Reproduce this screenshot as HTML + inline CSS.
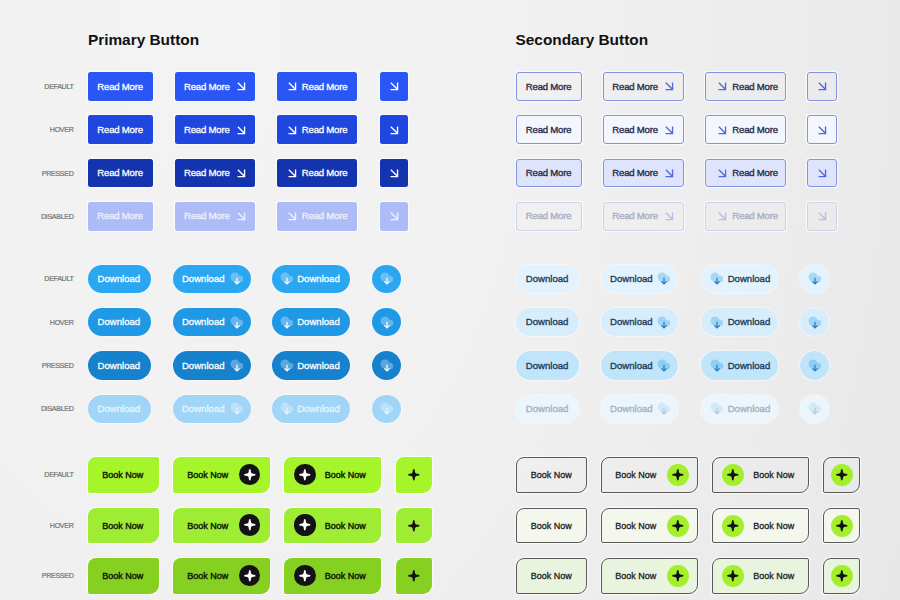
<!DOCTYPE html><html><head><meta charset="utf-8"><style>
*{margin:0;padding:0;box-sizing:border-box}
html,body{width:900px;height:600px;overflow:hidden}
body{position:relative;font-family:"Liberation Sans",sans-serif;background:radial-gradient(900px 1400px at 200px 50px,#f3f3f3 0%,#f1f1f1 35%,#ebebeb 70%,#e5e5e5 100%)}
.t{position:absolute;font-weight:bold;font-size:15.4px;color:#111;white-space:nowrap;line-height:20px}
.l{position:absolute;font-size:7.2px;letter-spacing:-0.38px;font-weight:normal;-webkit-text-stroke:0.22px #777;color:#777;text-align:right;width:60px;white-space:nowrap;line-height:10px}
.b{position:absolute;box-shadow:0 0 1.2px 0.6px rgba(255,255,255,0.75)}
.x{position:absolute;white-space:nowrap;line-height:20px}
.i{position:absolute;display:block;overflow:visible}
.c{position:absolute;border-radius:50%}
</style></head><body>
<div class="x" style="left:87.92px;top:29.83px;font-size:15.4px;font-weight:bold;color:#111;">Primary Button</div>
<div class="x" style="left:515.52px;top:29.83px;font-size:15.4px;font-weight:bold;color:#111;">Secondary Button</div>
<div class="l" style="left:13.50px;top:81.90px">DEFAULT</div>
<div class="l" style="left:13.50px;top:125.20px">HOVER</div>
<div class="l" style="left:13.50px;top:168.50px">PRESSED</div>
<div class="l" style="left:13.50px;top:211.80px">DISABLED</div>
<div class="b" style="left:88px;top:72.1px;width:65px;height:28.6px;background:#2a56f6;border-radius:2.5px"></div>
<div class="b" style="left:175px;top:72.1px;width:80.3px;height:28.6px;background:#2a56f6;border-radius:2.5px"></div>
<div class="b" style="left:277.2px;top:72.1px;width:80.3px;height:28.6px;background:#2a56f6;border-radius:2.5px"></div>
<div class="b" style="left:379.5px;top:72.1px;width:28.5px;height:28.6px;background:#2a56f6;border-radius:2.5px"></div>
<div class="x" style="left:97.33px;top:76.51px;font-size:9.6px;font-weight:normal;color:#ffffff;-webkit-text-stroke:0.28px #ffffff;letter-spacing:-0.22px;">Read More</div>
<div class="x" style="left:184.03px;top:76.51px;font-size:9.6px;font-weight:normal;color:#ffffff;-webkit-text-stroke:0.28px #ffffff;letter-spacing:-0.22px;">Read More</div>
<svg class="i" style="left:237.20px;top:82.20px" width="8.4" height="8.4" viewBox="0 0 8 8"><path d="M0.8 0.8L7 7M7.2 0.5V7.2H0.5" fill="none" stroke="#ffffff" stroke-width="1.29"/></svg>
<svg class="i" style="left:287.60px;top:82.20px" width="8.4" height="8.4" viewBox="0 0 8 8"><path d="M0.8 0.8L7 7M7.2 0.5V7.2H0.5" fill="none" stroke="#ffffff" stroke-width="1.29"/></svg>
<div class="x" style="left:301.83px;top:76.51px;font-size:9.6px;font-weight:normal;color:#ffffff;-webkit-text-stroke:0.28px #ffffff;letter-spacing:-0.22px;">Read More</div>
<svg class="i" style="left:389.60px;top:82.20px" width="8.4" height="8.4" viewBox="0 0 8 8"><path d="M0.8 0.8L7 7M7.2 0.5V7.2H0.5" fill="none" stroke="#ffffff" stroke-width="1.29"/></svg>
<div class="b" style="left:516.1px;top:72.1px;width:65.7px;height:28.6px;background:rgba(255,255,255,0);border:1.1px solid #8493df;border-radius:3px"></div>
<div class="b" style="left:602.9px;top:72.1px;width:80.8px;height:28.6px;background:rgba(255,255,255,0);border:1.1px solid #8493df;border-radius:3px"></div>
<div class="b" style="left:705px;top:72.1px;width:80.7px;height:28.6px;background:rgba(255,255,255,0);border:1.1px solid #8493df;border-radius:3px"></div>
<div class="b" style="left:807.2px;top:72.1px;width:29.4px;height:28.6px;background:rgba(255,255,255,0);border:1.1px solid #8493df;border-radius:3px"></div>
<div class="x" style="left:525.83px;top:76.51px;font-size:9.6px;font-weight:normal;color:#262b48;-webkit-text-stroke:0.33px #262b48;letter-spacing:-0.22px;">Read More</div>
<div class="x" style="left:612.33px;top:76.51px;font-size:9.6px;font-weight:normal;color:#262b48;-webkit-text-stroke:0.33px #262b48;letter-spacing:-0.22px;">Read More</div>
<svg class="i" style="left:665.20px;top:82.20px" width="8.4" height="8.4" viewBox="0 0 8 8"><path d="M0.8 0.8L7 7M7.2 0.5V7.2H0.5" fill="none" stroke="#5468da" stroke-width="1.29"/></svg>
<svg class="i" style="left:717.90px;top:82.20px" width="8.4" height="8.4" viewBox="0 0 8 8"><path d="M0.8 0.8L7 7M7.2 0.5V7.2H0.5" fill="none" stroke="#5468da" stroke-width="1.29"/></svg>
<div class="x" style="left:732.33px;top:76.51px;font-size:9.6px;font-weight:normal;color:#262b48;-webkit-text-stroke:0.33px #262b48;letter-spacing:-0.22px;">Read More</div>
<svg class="i" style="left:817.50px;top:82.20px" width="8.4" height="8.4" viewBox="0 0 8 8"><path d="M0.8 0.8L7 7M7.2 0.5V7.2H0.5" fill="none" stroke="#5468da" stroke-width="1.29"/></svg>
<div class="b" style="left:88px;top:115.4px;width:65px;height:28.6px;background:#1f47e0;border-radius:2.5px"></div>
<div class="b" style="left:175px;top:115.4px;width:80.3px;height:28.6px;background:#1f47e0;border-radius:2.5px"></div>
<div class="b" style="left:277.2px;top:115.4px;width:80.3px;height:28.6px;background:#1f47e0;border-radius:2.5px"></div>
<div class="b" style="left:379.5px;top:115.4px;width:28.5px;height:28.6px;background:#1f47e0;border-radius:2.5px"></div>
<div class="x" style="left:97.33px;top:119.81px;font-size:9.6px;font-weight:normal;color:#ffffff;-webkit-text-stroke:0.28px #ffffff;letter-spacing:-0.22px;">Read More</div>
<div class="x" style="left:184.03px;top:119.81px;font-size:9.6px;font-weight:normal;color:#ffffff;-webkit-text-stroke:0.28px #ffffff;letter-spacing:-0.22px;">Read More</div>
<svg class="i" style="left:237.20px;top:125.50px" width="8.4" height="8.4" viewBox="0 0 8 8"><path d="M0.8 0.8L7 7M7.2 0.5V7.2H0.5" fill="none" stroke="#ffffff" stroke-width="1.29"/></svg>
<svg class="i" style="left:287.60px;top:125.50px" width="8.4" height="8.4" viewBox="0 0 8 8"><path d="M0.8 0.8L7 7M7.2 0.5V7.2H0.5" fill="none" stroke="#ffffff" stroke-width="1.29"/></svg>
<div class="x" style="left:301.83px;top:119.81px;font-size:9.6px;font-weight:normal;color:#ffffff;-webkit-text-stroke:0.28px #ffffff;letter-spacing:-0.22px;">Read More</div>
<svg class="i" style="left:389.60px;top:125.50px" width="8.4" height="8.4" viewBox="0 0 8 8"><path d="M0.8 0.8L7 7M7.2 0.5V7.2H0.5" fill="none" stroke="#ffffff" stroke-width="1.29"/></svg>
<div class="b" style="left:516.1px;top:115.4px;width:65.7px;height:28.6px;background:#f4f6fe;border:1.1px solid #8493df;border-radius:3px"></div>
<div class="b" style="left:602.9px;top:115.4px;width:80.8px;height:28.6px;background:#f4f6fe;border:1.1px solid #8493df;border-radius:3px"></div>
<div class="b" style="left:705px;top:115.4px;width:80.7px;height:28.6px;background:#f4f6fe;border:1.1px solid #8493df;border-radius:3px"></div>
<div class="b" style="left:807.2px;top:115.4px;width:29.4px;height:28.6px;background:#f4f6fe;border:1.1px solid #8493df;border-radius:3px"></div>
<div class="x" style="left:525.83px;top:119.81px;font-size:9.6px;font-weight:normal;color:#262b48;-webkit-text-stroke:0.33px #262b48;letter-spacing:-0.22px;">Read More</div>
<div class="x" style="left:612.33px;top:119.81px;font-size:9.6px;font-weight:normal;color:#262b48;-webkit-text-stroke:0.33px #262b48;letter-spacing:-0.22px;">Read More</div>
<svg class="i" style="left:665.20px;top:125.50px" width="8.4" height="8.4" viewBox="0 0 8 8"><path d="M0.8 0.8L7 7M7.2 0.5V7.2H0.5" fill="none" stroke="#5468da" stroke-width="1.29"/></svg>
<svg class="i" style="left:717.90px;top:125.50px" width="8.4" height="8.4" viewBox="0 0 8 8"><path d="M0.8 0.8L7 7M7.2 0.5V7.2H0.5" fill="none" stroke="#5468da" stroke-width="1.29"/></svg>
<div class="x" style="left:732.33px;top:119.81px;font-size:9.6px;font-weight:normal;color:#262b48;-webkit-text-stroke:0.33px #262b48;letter-spacing:-0.22px;">Read More</div>
<svg class="i" style="left:817.50px;top:125.50px" width="8.4" height="8.4" viewBox="0 0 8 8"><path d="M0.8 0.8L7 7M7.2 0.5V7.2H0.5" fill="none" stroke="#5468da" stroke-width="1.29"/></svg>
<div class="b" style="left:88px;top:158.7px;width:65px;height:28.6px;background:#1433ae;border-radius:2.5px"></div>
<div class="b" style="left:175px;top:158.7px;width:80.3px;height:28.6px;background:#1433ae;border-radius:2.5px"></div>
<div class="b" style="left:277.2px;top:158.7px;width:80.3px;height:28.6px;background:#1433ae;border-radius:2.5px"></div>
<div class="b" style="left:379.5px;top:158.7px;width:28.5px;height:28.6px;background:#1433ae;border-radius:2.5px"></div>
<div class="x" style="left:97.33px;top:163.11px;font-size:9.6px;font-weight:normal;color:#ffffff;-webkit-text-stroke:0.28px #ffffff;letter-spacing:-0.22px;">Read More</div>
<div class="x" style="left:184.03px;top:163.11px;font-size:9.6px;font-weight:normal;color:#ffffff;-webkit-text-stroke:0.28px #ffffff;letter-spacing:-0.22px;">Read More</div>
<svg class="i" style="left:237.20px;top:168.80px" width="8.4" height="8.4" viewBox="0 0 8 8"><path d="M0.8 0.8L7 7M7.2 0.5V7.2H0.5" fill="none" stroke="#ffffff" stroke-width="1.29"/></svg>
<svg class="i" style="left:287.60px;top:168.80px" width="8.4" height="8.4" viewBox="0 0 8 8"><path d="M0.8 0.8L7 7M7.2 0.5V7.2H0.5" fill="none" stroke="#ffffff" stroke-width="1.29"/></svg>
<div class="x" style="left:301.83px;top:163.11px;font-size:9.6px;font-weight:normal;color:#ffffff;-webkit-text-stroke:0.28px #ffffff;letter-spacing:-0.22px;">Read More</div>
<svg class="i" style="left:389.60px;top:168.80px" width="8.4" height="8.4" viewBox="0 0 8 8"><path d="M0.8 0.8L7 7M7.2 0.5V7.2H0.5" fill="none" stroke="#ffffff" stroke-width="1.29"/></svg>
<div class="b" style="left:516.1px;top:158.7px;width:65.7px;height:28.6px;background:#dee4fb;border:1.1px solid #8493df;border-radius:3px"></div>
<div class="b" style="left:602.9px;top:158.7px;width:80.8px;height:28.6px;background:#dee4fb;border:1.1px solid #8493df;border-radius:3px"></div>
<div class="b" style="left:705px;top:158.7px;width:80.7px;height:28.6px;background:#dee4fb;border:1.1px solid #8493df;border-radius:3px"></div>
<div class="b" style="left:807.2px;top:158.7px;width:29.4px;height:28.6px;background:#dee4fb;border:1.1px solid #8493df;border-radius:3px"></div>
<div class="x" style="left:525.83px;top:163.11px;font-size:9.6px;font-weight:normal;color:#262b48;-webkit-text-stroke:0.33px #262b48;letter-spacing:-0.22px;">Read More</div>
<div class="x" style="left:612.33px;top:163.11px;font-size:9.6px;font-weight:normal;color:#262b48;-webkit-text-stroke:0.33px #262b48;letter-spacing:-0.22px;">Read More</div>
<svg class="i" style="left:665.20px;top:168.80px" width="8.4" height="8.4" viewBox="0 0 8 8"><path d="M0.8 0.8L7 7M7.2 0.5V7.2H0.5" fill="none" stroke="#5468da" stroke-width="1.29"/></svg>
<svg class="i" style="left:717.90px;top:168.80px" width="8.4" height="8.4" viewBox="0 0 8 8"><path d="M0.8 0.8L7 7M7.2 0.5V7.2H0.5" fill="none" stroke="#5468da" stroke-width="1.29"/></svg>
<div class="x" style="left:732.33px;top:163.11px;font-size:9.6px;font-weight:normal;color:#262b48;-webkit-text-stroke:0.33px #262b48;letter-spacing:-0.22px;">Read More</div>
<svg class="i" style="left:817.50px;top:168.80px" width="8.4" height="8.4" viewBox="0 0 8 8"><path d="M0.8 0.8L7 7M7.2 0.5V7.2H0.5" fill="none" stroke="#5468da" stroke-width="1.29"/></svg>
<div class="b" style="left:88px;top:202.0px;width:65px;height:28.6px;background:#adbcf6;border-radius:2.5px"></div>
<div class="b" style="left:175px;top:202.0px;width:80.3px;height:28.6px;background:#adbcf6;border-radius:2.5px"></div>
<div class="b" style="left:277.2px;top:202.0px;width:80.3px;height:28.6px;background:#adbcf6;border-radius:2.5px"></div>
<div class="b" style="left:379.5px;top:202.0px;width:28.5px;height:28.6px;background:#adbcf6;border-radius:2.5px"></div>
<div class="x" style="left:97.33px;top:206.41px;font-size:9.6px;font-weight:normal;color:#edf1fe;-webkit-text-stroke:0.28px #edf1fe;letter-spacing:-0.22px;">Read More</div>
<div class="x" style="left:184.03px;top:206.41px;font-size:9.6px;font-weight:normal;color:#edf1fe;-webkit-text-stroke:0.28px #edf1fe;letter-spacing:-0.22px;">Read More</div>
<svg class="i" style="left:237.20px;top:212.10px" width="8.4" height="8.4" viewBox="0 0 8 8"><path d="M0.8 0.8L7 7M7.2 0.5V7.2H0.5" fill="none" stroke="#edf1fe" stroke-width="1.29"/></svg>
<svg class="i" style="left:287.60px;top:212.10px" width="8.4" height="8.4" viewBox="0 0 8 8"><path d="M0.8 0.8L7 7M7.2 0.5V7.2H0.5" fill="none" stroke="#edf1fe" stroke-width="1.29"/></svg>
<div class="x" style="left:301.83px;top:206.41px;font-size:9.6px;font-weight:normal;color:#edf1fe;-webkit-text-stroke:0.28px #edf1fe;letter-spacing:-0.22px;">Read More</div>
<svg class="i" style="left:389.60px;top:212.10px" width="8.4" height="8.4" viewBox="0 0 8 8"><path d="M0.8 0.8L7 7M7.2 0.5V7.2H0.5" fill="none" stroke="#edf1fe" stroke-width="1.29"/></svg>
<div class="b" style="left:516.1px;top:202.0px;width:65.7px;height:28.6px;background:rgba(255,255,255,0);border:1.1px solid #cdd2eb;border-radius:3px"></div>
<div class="b" style="left:602.9px;top:202.0px;width:80.8px;height:28.6px;background:rgba(255,255,255,0);border:1.1px solid #cdd2eb;border-radius:3px"></div>
<div class="b" style="left:705px;top:202.0px;width:80.7px;height:28.6px;background:rgba(255,255,255,0);border:1.1px solid #cdd2eb;border-radius:3px"></div>
<div class="b" style="left:807.2px;top:202.0px;width:29.4px;height:28.6px;background:rgba(255,255,255,0);border:1.1px solid #cdd2eb;border-radius:3px"></div>
<div class="x" style="left:525.83px;top:206.41px;font-size:9.6px;font-weight:normal;color:#a7adc4;-webkit-text-stroke:0.33px #a7adc4;letter-spacing:-0.22px;">Read More</div>
<div class="x" style="left:612.33px;top:206.41px;font-size:9.6px;font-weight:normal;color:#a7adc4;-webkit-text-stroke:0.33px #a7adc4;letter-spacing:-0.22px;">Read More</div>
<svg class="i" style="left:665.20px;top:212.10px" width="8.4" height="8.4" viewBox="0 0 8 8"><path d="M0.8 0.8L7 7M7.2 0.5V7.2H0.5" fill="none" stroke="#b5bde6" stroke-width="1.29"/></svg>
<svg class="i" style="left:717.90px;top:212.10px" width="8.4" height="8.4" viewBox="0 0 8 8"><path d="M0.8 0.8L7 7M7.2 0.5V7.2H0.5" fill="none" stroke="#b5bde6" stroke-width="1.29"/></svg>
<div class="x" style="left:732.33px;top:206.41px;font-size:9.6px;font-weight:normal;color:#a7adc4;-webkit-text-stroke:0.33px #a7adc4;letter-spacing:-0.22px;">Read More</div>
<svg class="i" style="left:817.50px;top:212.10px" width="8.4" height="8.4" viewBox="0 0 8 8"><path d="M0.8 0.8L7 7M7.2 0.5V7.2H0.5" fill="none" stroke="#b5bde6" stroke-width="1.29"/></svg>
<div class="l" style="left:13.50px;top:274.30px">DEFAULT</div>
<div class="l" style="left:13.50px;top:317.60px">HOVER</div>
<div class="l" style="left:13.50px;top:361.00px">PRESSED</div>
<div class="l" style="left:13.50px;top:404.30px">DISABLED</div>
<div class="b" style="left:88.2px;top:264.5px;width:62.9px;height:28.6px;background:#2ba7f1;border-radius:15px"></div>
<div class="b" style="left:172.6px;top:264.5px;width:78.8px;height:28.6px;background:#2ba7f1;border-radius:15px"></div>
<div class="b" style="left:272.2px;top:264.5px;width:78.1px;height:28.6px;background:#2ba7f1;border-radius:15px"></div>
<div class="b" style="left:372.1px;top:264.5px;width:29px;height:28.6px;background:#2ba7f1;border-radius:15px"></div>
<div class="x" style="left:97.53px;top:268.91px;font-size:9.6px;font-weight:normal;color:#ffffff;-webkit-text-stroke:0.28px #ffffff;">Download</div>
<div class="x" style="left:181.93px;top:268.91px;font-size:9.6px;font-weight:normal;color:#ffffff;-webkit-text-stroke:0.28px #ffffff;">Download</div>
<svg class="i" style="left:229.50px;top:272.20px" width="14" height="14" viewBox="0 0 14 14"><g opacity="0.3" fill="#fff"><circle cx="5" cy="5" r="4.5"/><circle cx="10" cy="7" r="3.2"/><rect x="4" y="5" width="6.5" height="5.2" rx="1"/></g><path d="M7 5.8V12M4.3 9.3L7 12L9.7 9.3" fill="none" stroke="#ffffff" stroke-width="1.2"/></svg>
<svg class="i" style="left:279.50px;top:272.20px" width="14" height="14" viewBox="0 0 14 14"><g opacity="0.3" fill="#fff"><circle cx="5" cy="5" r="4.5"/><circle cx="10" cy="7" r="3.2"/><rect x="4" y="5" width="6.5" height="5.2" rx="1"/></g><path d="M7 5.8V12M4.3 9.3L7 12L9.7 9.3" fill="none" stroke="#ffffff" stroke-width="1.2"/></svg>
<div class="x" style="left:297.13px;top:268.91px;font-size:9.6px;font-weight:normal;color:#ffffff;-webkit-text-stroke:0.28px #ffffff;">Download</div>
<svg class="i" style="left:379.60px;top:272.20px" width="14" height="14" viewBox="0 0 14 14"><g opacity="0.3" fill="#fff"><circle cx="5" cy="5" r="4.5"/><circle cx="10" cy="7" r="3.2"/><rect x="4" y="5" width="6.5" height="5.2" rx="1"/></g><path d="M7 5.8V12M4.3 9.3L7 12L9.7 9.3" fill="none" stroke="#ffffff" stroke-width="1.2"/></svg>
<div class="b" style="left:516.3px;top:264.5px;width:62.5px;height:28.6px;background:#e3f2fd;border-radius:15px"></div>
<div class="b" style="left:600.9px;top:264.5px;width:77.2px;height:28.6px;background:#e3f2fd;border-radius:15px"></div>
<div class="b" style="left:700.9px;top:264.5px;width:77.2px;height:28.6px;background:#e3f2fd;border-radius:15px"></div>
<div class="b" style="left:800.4px;top:264.5px;width:28.5px;height:28.6px;background:#e3f2fd;border-radius:15px"></div>
<div class="x" style="left:525.73px;top:268.91px;font-size:9.6px;font-weight:normal;color:#1d3c58;-webkit-text-stroke:0.33px #1d3c58;">Download</div>
<div class="x" style="left:610.03px;top:268.91px;font-size:9.6px;font-weight:normal;color:#1d3c58;-webkit-text-stroke:0.33px #1d3c58;">Download</div>
<svg class="i" style="left:657.30px;top:272.20px" width="14" height="14" viewBox="0 0 14 14"><g opacity="1" fill="#a8d7f4"><circle cx="5" cy="5" r="4.5"/><circle cx="10" cy="7" r="3.2"/><rect x="4" y="5" width="6.5" height="5.2" rx="1"/></g><path d="M7 5.8V12M4.3 9.3L7 12L9.7 9.3" fill="none" stroke="#1f7cc8" stroke-width="1.2"/></svg>
<svg class="i" style="left:710.30px;top:272.20px" width="14" height="14" viewBox="0 0 14 14"><g opacity="1" fill="#a8d7f4"><circle cx="5" cy="5" r="4.5"/><circle cx="10" cy="7" r="3.2"/><rect x="4" y="5" width="6.5" height="5.2" rx="1"/></g><path d="M7 5.8V12M4.3 9.3L7 12L9.7 9.3" fill="none" stroke="#1f7cc8" stroke-width="1.2"/></svg>
<div class="x" style="left:727.63px;top:268.91px;font-size:9.6px;font-weight:normal;color:#1d3c58;-webkit-text-stroke:0.33px #1d3c58;">Download</div>
<svg class="i" style="left:807.70px;top:272.20px" width="14" height="14" viewBox="0 0 14 14"><g opacity="1" fill="#a8d7f4"><circle cx="5" cy="5" r="4.5"/><circle cx="10" cy="7" r="3.2"/><rect x="4" y="5" width="6.5" height="5.2" rx="1"/></g><path d="M7 5.8V12M4.3 9.3L7 12L9.7 9.3" fill="none" stroke="#1f7cc8" stroke-width="1.2"/></svg>
<div class="b" style="left:88.2px;top:307.8px;width:62.9px;height:28.6px;background:#1f98e6;border-radius:15px"></div>
<div class="b" style="left:172.6px;top:307.8px;width:78.8px;height:28.6px;background:#1f98e6;border-radius:15px"></div>
<div class="b" style="left:272.2px;top:307.8px;width:78.1px;height:28.6px;background:#1f98e6;border-radius:15px"></div>
<div class="b" style="left:372.1px;top:307.8px;width:29px;height:28.6px;background:#1f98e6;border-radius:15px"></div>
<div class="x" style="left:97.53px;top:312.21px;font-size:9.6px;font-weight:normal;color:#ffffff;-webkit-text-stroke:0.28px #ffffff;">Download</div>
<div class="x" style="left:181.93px;top:312.21px;font-size:9.6px;font-weight:normal;color:#ffffff;-webkit-text-stroke:0.28px #ffffff;">Download</div>
<svg class="i" style="left:229.50px;top:315.50px" width="14" height="14" viewBox="0 0 14 14"><g opacity="0.3" fill="#fff"><circle cx="5" cy="5" r="4.5"/><circle cx="10" cy="7" r="3.2"/><rect x="4" y="5" width="6.5" height="5.2" rx="1"/></g><path d="M7 5.8V12M4.3 9.3L7 12L9.7 9.3" fill="none" stroke="#ffffff" stroke-width="1.2"/></svg>
<svg class="i" style="left:279.50px;top:315.50px" width="14" height="14" viewBox="0 0 14 14"><g opacity="0.3" fill="#fff"><circle cx="5" cy="5" r="4.5"/><circle cx="10" cy="7" r="3.2"/><rect x="4" y="5" width="6.5" height="5.2" rx="1"/></g><path d="M7 5.8V12M4.3 9.3L7 12L9.7 9.3" fill="none" stroke="#ffffff" stroke-width="1.2"/></svg>
<div class="x" style="left:297.13px;top:312.21px;font-size:9.6px;font-weight:normal;color:#ffffff;-webkit-text-stroke:0.28px #ffffff;">Download</div>
<svg class="i" style="left:379.60px;top:315.50px" width="14" height="14" viewBox="0 0 14 14"><g opacity="0.3" fill="#fff"><circle cx="5" cy="5" r="4.5"/><circle cx="10" cy="7" r="3.2"/><rect x="4" y="5" width="6.5" height="5.2" rx="1"/></g><path d="M7 5.8V12M4.3 9.3L7 12L9.7 9.3" fill="none" stroke="#ffffff" stroke-width="1.2"/></svg>
<div class="b" style="left:516.3px;top:307.8px;width:62.5px;height:28.6px;background:#d7edfc;border-radius:15px"></div>
<div class="b" style="left:600.9px;top:307.8px;width:77.2px;height:28.6px;background:#d7edfc;border-radius:15px"></div>
<div class="b" style="left:700.9px;top:307.8px;width:77.2px;height:28.6px;background:#d7edfc;border-radius:15px"></div>
<div class="b" style="left:800.4px;top:307.8px;width:28.5px;height:28.6px;background:#d7edfc;border-radius:15px"></div>
<div class="x" style="left:525.73px;top:312.21px;font-size:9.6px;font-weight:normal;color:#1d3c58;-webkit-text-stroke:0.33px #1d3c58;">Download</div>
<div class="x" style="left:610.03px;top:312.21px;font-size:9.6px;font-weight:normal;color:#1d3c58;-webkit-text-stroke:0.33px #1d3c58;">Download</div>
<svg class="i" style="left:657.30px;top:315.50px" width="14" height="14" viewBox="0 0 14 14"><g opacity="1" fill="#a0d3f4"><circle cx="5" cy="5" r="4.5"/><circle cx="10" cy="7" r="3.2"/><rect x="4" y="5" width="6.5" height="5.2" rx="1"/></g><path d="M7 5.8V12M4.3 9.3L7 12L9.7 9.3" fill="none" stroke="#1f7cc8" stroke-width="1.2"/></svg>
<svg class="i" style="left:710.30px;top:315.50px" width="14" height="14" viewBox="0 0 14 14"><g opacity="1" fill="#a0d3f4"><circle cx="5" cy="5" r="4.5"/><circle cx="10" cy="7" r="3.2"/><rect x="4" y="5" width="6.5" height="5.2" rx="1"/></g><path d="M7 5.8V12M4.3 9.3L7 12L9.7 9.3" fill="none" stroke="#1f7cc8" stroke-width="1.2"/></svg>
<div class="x" style="left:727.63px;top:312.21px;font-size:9.6px;font-weight:normal;color:#1d3c58;-webkit-text-stroke:0.33px #1d3c58;">Download</div>
<svg class="i" style="left:807.70px;top:315.50px" width="14" height="14" viewBox="0 0 14 14"><g opacity="1" fill="#a0d3f4"><circle cx="5" cy="5" r="4.5"/><circle cx="10" cy="7" r="3.2"/><rect x="4" y="5" width="6.5" height="5.2" rx="1"/></g><path d="M7 5.8V12M4.3 9.3L7 12L9.7 9.3" fill="none" stroke="#1f7cc8" stroke-width="1.2"/></svg>
<div class="b" style="left:88.2px;top:351.2px;width:62.9px;height:28.6px;background:#1681cd;border-radius:15px"></div>
<div class="b" style="left:172.6px;top:351.2px;width:78.8px;height:28.6px;background:#1681cd;border-radius:15px"></div>
<div class="b" style="left:272.2px;top:351.2px;width:78.1px;height:28.6px;background:#1681cd;border-radius:15px"></div>
<div class="b" style="left:372.1px;top:351.2px;width:29px;height:28.6px;background:#1681cd;border-radius:15px"></div>
<div class="x" style="left:97.53px;top:355.61px;font-size:9.6px;font-weight:normal;color:#ffffff;-webkit-text-stroke:0.28px #ffffff;">Download</div>
<div class="x" style="left:181.93px;top:355.61px;font-size:9.6px;font-weight:normal;color:#ffffff;-webkit-text-stroke:0.28px #ffffff;">Download</div>
<svg class="i" style="left:229.50px;top:358.90px" width="14" height="14" viewBox="0 0 14 14"><g opacity="0.3" fill="#fff"><circle cx="5" cy="5" r="4.5"/><circle cx="10" cy="7" r="3.2"/><rect x="4" y="5" width="6.5" height="5.2" rx="1"/></g><path d="M7 5.8V12M4.3 9.3L7 12L9.7 9.3" fill="none" stroke="#ffffff" stroke-width="1.2"/></svg>
<svg class="i" style="left:279.50px;top:358.90px" width="14" height="14" viewBox="0 0 14 14"><g opacity="0.3" fill="#fff"><circle cx="5" cy="5" r="4.5"/><circle cx="10" cy="7" r="3.2"/><rect x="4" y="5" width="6.5" height="5.2" rx="1"/></g><path d="M7 5.8V12M4.3 9.3L7 12L9.7 9.3" fill="none" stroke="#ffffff" stroke-width="1.2"/></svg>
<div class="x" style="left:297.13px;top:355.61px;font-size:9.6px;font-weight:normal;color:#ffffff;-webkit-text-stroke:0.28px #ffffff;">Download</div>
<svg class="i" style="left:379.60px;top:358.90px" width="14" height="14" viewBox="0 0 14 14"><g opacity="0.3" fill="#fff"><circle cx="5" cy="5" r="4.5"/><circle cx="10" cy="7" r="3.2"/><rect x="4" y="5" width="6.5" height="5.2" rx="1"/></g><path d="M7 5.8V12M4.3 9.3L7 12L9.7 9.3" fill="none" stroke="#ffffff" stroke-width="1.2"/></svg>
<div class="b" style="left:516.3px;top:351.2px;width:62.5px;height:28.6px;background:#c0e4fa;border-radius:15px"></div>
<div class="b" style="left:600.9px;top:351.2px;width:77.2px;height:28.6px;background:#c0e4fa;border-radius:15px"></div>
<div class="b" style="left:700.9px;top:351.2px;width:77.2px;height:28.6px;background:#c0e4fa;border-radius:15px"></div>
<div class="b" style="left:800.4px;top:351.2px;width:28.5px;height:28.6px;background:#c0e4fa;border-radius:15px"></div>
<div class="x" style="left:525.73px;top:355.61px;font-size:9.6px;font-weight:normal;color:#1d3c58;-webkit-text-stroke:0.33px #1d3c58;">Download</div>
<div class="x" style="left:610.03px;top:355.61px;font-size:9.6px;font-weight:normal;color:#1d3c58;-webkit-text-stroke:0.33px #1d3c58;">Download</div>
<svg class="i" style="left:657.30px;top:358.90px" width="14" height="14" viewBox="0 0 14 14"><g opacity="1" fill="#8ecdf4"><circle cx="5" cy="5" r="4.5"/><circle cx="10" cy="7" r="3.2"/><rect x="4" y="5" width="6.5" height="5.2" rx="1"/></g><path d="M7 5.8V12M4.3 9.3L7 12L9.7 9.3" fill="none" stroke="#1f7cc8" stroke-width="1.2"/></svg>
<svg class="i" style="left:710.30px;top:358.90px" width="14" height="14" viewBox="0 0 14 14"><g opacity="1" fill="#8ecdf4"><circle cx="5" cy="5" r="4.5"/><circle cx="10" cy="7" r="3.2"/><rect x="4" y="5" width="6.5" height="5.2" rx="1"/></g><path d="M7 5.8V12M4.3 9.3L7 12L9.7 9.3" fill="none" stroke="#1f7cc8" stroke-width="1.2"/></svg>
<div class="x" style="left:727.63px;top:355.61px;font-size:9.6px;font-weight:normal;color:#1d3c58;-webkit-text-stroke:0.33px #1d3c58;">Download</div>
<svg class="i" style="left:807.70px;top:358.90px" width="14" height="14" viewBox="0 0 14 14"><g opacity="1" fill="#8ecdf4"><circle cx="5" cy="5" r="4.5"/><circle cx="10" cy="7" r="3.2"/><rect x="4" y="5" width="6.5" height="5.2" rx="1"/></g><path d="M7 5.8V12M4.3 9.3L7 12L9.7 9.3" fill="none" stroke="#1f7cc8" stroke-width="1.2"/></svg>
<div class="b" style="left:88.2px;top:394.5px;width:62.9px;height:28.6px;background:#a0d5f8;border-radius:15px"></div>
<div class="b" style="left:172.6px;top:394.5px;width:78.8px;height:28.6px;background:#a0d5f8;border-radius:15px"></div>
<div class="b" style="left:272.2px;top:394.5px;width:78.1px;height:28.6px;background:#a0d5f8;border-radius:15px"></div>
<div class="b" style="left:372.1px;top:394.5px;width:29px;height:28.6px;background:#a0d5f8;border-radius:15px"></div>
<div class="x" style="left:97.53px;top:398.91px;font-size:9.6px;font-weight:normal;color:#e6f5fe;-webkit-text-stroke:0.28px #e6f5fe;">Download</div>
<div class="x" style="left:181.93px;top:398.91px;font-size:9.6px;font-weight:normal;color:#e6f5fe;-webkit-text-stroke:0.28px #e6f5fe;">Download</div>
<svg class="i" style="left:229.50px;top:402.20px" width="14" height="14" viewBox="0 0 14 14"><g opacity="0.3" fill="#fff"><circle cx="5" cy="5" r="4.5"/><circle cx="10" cy="7" r="3.2"/><rect x="4" y="5" width="6.5" height="5.2" rx="1"/></g><path d="M7 5.8V12M4.3 9.3L7 12L9.7 9.3" fill="none" stroke="#e6f5fe" stroke-width="1.2"/></svg>
<svg class="i" style="left:279.50px;top:402.20px" width="14" height="14" viewBox="0 0 14 14"><g opacity="0.3" fill="#fff"><circle cx="5" cy="5" r="4.5"/><circle cx="10" cy="7" r="3.2"/><rect x="4" y="5" width="6.5" height="5.2" rx="1"/></g><path d="M7 5.8V12M4.3 9.3L7 12L9.7 9.3" fill="none" stroke="#e6f5fe" stroke-width="1.2"/></svg>
<div class="x" style="left:297.13px;top:398.91px;font-size:9.6px;font-weight:normal;color:#e6f5fe;-webkit-text-stroke:0.28px #e6f5fe;">Download</div>
<svg class="i" style="left:379.60px;top:402.20px" width="14" height="14" viewBox="0 0 14 14"><g opacity="0.3" fill="#fff"><circle cx="5" cy="5" r="4.5"/><circle cx="10" cy="7" r="3.2"/><rect x="4" y="5" width="6.5" height="5.2" rx="1"/></g><path d="M7 5.8V12M4.3 9.3L7 12L9.7 9.3" fill="none" stroke="#e6f5fe" stroke-width="1.2"/></svg>
<div class="b" style="left:516.3px;top:394.5px;width:62.5px;height:28.6px;background:#ecf5fc;border-radius:15px"></div>
<div class="b" style="left:600.9px;top:394.5px;width:77.2px;height:28.6px;background:#ecf5fc;border-radius:15px"></div>
<div class="b" style="left:700.9px;top:394.5px;width:77.2px;height:28.6px;background:#ecf5fc;border-radius:15px"></div>
<div class="b" style="left:800.4px;top:394.5px;width:28.5px;height:28.6px;background:#ecf5fc;border-radius:15px"></div>
<div class="x" style="left:525.73px;top:398.91px;font-size:9.6px;font-weight:normal;color:#a0b3c3;-webkit-text-stroke:0.33px #a0b3c3;">Download</div>
<div class="x" style="left:610.03px;top:398.91px;font-size:9.6px;font-weight:normal;color:#a0b3c3;-webkit-text-stroke:0.33px #a0b3c3;">Download</div>
<svg class="i" style="left:657.30px;top:402.20px" width="14" height="14" viewBox="0 0 14 14"><g opacity="1" fill="#d3e9f8"><circle cx="5" cy="5" r="4.5"/><circle cx="10" cy="7" r="3.2"/><rect x="4" y="5" width="6.5" height="5.2" rx="1"/></g><path d="M7 5.8V12M4.3 9.3L7 12L9.7 9.3" fill="none" stroke="#a9cbe8" stroke-width="1.2"/></svg>
<svg class="i" style="left:710.30px;top:402.20px" width="14" height="14" viewBox="0 0 14 14"><g opacity="1" fill="#d3e9f8"><circle cx="5" cy="5" r="4.5"/><circle cx="10" cy="7" r="3.2"/><rect x="4" y="5" width="6.5" height="5.2" rx="1"/></g><path d="M7 5.8V12M4.3 9.3L7 12L9.7 9.3" fill="none" stroke="#a9cbe8" stroke-width="1.2"/></svg>
<div class="x" style="left:727.63px;top:398.91px;font-size:9.6px;font-weight:normal;color:#a0b3c3;-webkit-text-stroke:0.33px #a0b3c3;">Download</div>
<svg class="i" style="left:807.70px;top:402.20px" width="14" height="14" viewBox="0 0 14 14"><g opacity="1" fill="#d3e9f8"><circle cx="5" cy="5" r="4.5"/><circle cx="10" cy="7" r="3.2"/><rect x="4" y="5" width="6.5" height="5.2" rx="1"/></g><path d="M7 5.8V12M4.3 9.3L7 12L9.7 9.3" fill="none" stroke="#a9cbe8" stroke-width="1.2"/></svg>
<div class="l" style="left:13.50px;top:470.30px">DEFAULT</div>
<div class="l" style="left:13.50px;top:521.00px">HOVER</div>
<div class="l" style="left:13.50px;top:571.30px">PRESSED</div>
<div class="b" style="left:88.1px;top:457px;width:70.7px;height:35.6px;background:#a6f42a;border-radius:8px 2px 9px 2px"></div>
<div class="b" style="left:173.3px;top:457px;width:96.4px;height:35.6px;background:#a6f42a;border-radius:8px 2px 9px 2px"></div>
<div class="b" style="left:283.9px;top:457px;width:97.4px;height:35.6px;background:#a6f42a;border-radius:8px 2px 9px 2px"></div>
<div class="b" style="left:395.6px;top:457px;width:36.4px;height:35.6px;background:#a6f42a;border-radius:8px 2px 9px 2px"></div>
<div class="x" style="left:102.27px;top:464.90px;font-size:9.0px;font-weight:normal;color:#101806;-webkit-text-stroke:0.4px #101806;">Book Now</div>
<div class="x" style="left:187.27px;top:464.90px;font-size:9.0px;font-weight:normal;color:#101806;-webkit-text-stroke:0.4px #101806;">Book Now</div>
<div class="c" style="left:238.85px;top:463.65px;width:21.3px;height:21.3px;background:#131214"></div>
<svg class="i" style="left:243.70px;top:468.50px" width="11.6" height="11.6" viewBox="0 0 12 12"><path d="M5.2 0.5Q6 -0.3 6.8 0.5L7.3 3.4Q7.5 4.5 8.6 4.7L11.5 5.2Q12.3 6 11.5 6.8L8.6 7.3Q7.5 7.5 7.3 8.6L6.8 11.5Q6 12.3 5.2 11.5L4.7 8.6Q4.5 7.5 3.4 7.3L0.5 6.8Q-0.3 6 0.5 5.2L3.4 4.7Q4.5 4.5 4.7 3.4Z" fill="#fff"/></svg>
<div class="c" style="left:294.35px;top:463.65px;width:21.3px;height:21.3px;background:#131214"></div>
<svg class="i" style="left:299.20px;top:468.50px" width="11.6" height="11.6" viewBox="0 0 12 12"><path d="M5.2 0.5Q6 -0.3 6.8 0.5L7.3 3.4Q7.5 4.5 8.6 4.7L11.5 5.2Q12.3 6 11.5 6.8L8.6 7.3Q7.5 7.5 7.3 8.6L6.8 11.5Q6 12.3 5.2 11.5L4.7 8.6Q4.5 7.5 3.4 7.3L0.5 6.8Q-0.3 6 0.5 5.2L3.4 4.7Q4.5 4.5 4.7 3.4Z" fill="#fff"/></svg>
<div class="x" style="left:324.67px;top:464.90px;font-size:9.0px;font-weight:normal;color:#101806;-webkit-text-stroke:0.4px #101806;">Book Now</div>
<svg class="i" style="left:408.00px;top:468.80px" width="11.6" height="11.6" viewBox="0 0 12 12"><path d="M5.2 0.5Q6 -0.3 6.8 0.5L7.3 3.4Q7.5 4.5 8.6 4.7L11.5 5.2Q12.3 6 11.5 6.8L8.6 7.3Q7.5 7.5 7.3 8.6L6.8 11.5Q6 12.3 5.2 11.5L4.7 8.6Q4.5 7.5 3.4 7.3L0.5 6.8Q-0.3 6 0.5 5.2L3.4 4.7Q4.5 4.5 4.7 3.4Z" fill="#131214"/></svg>
<div class="b" style="left:516.2px;top:457px;width:70.7px;height:35.6px;background:rgba(255,255,255,0);border:1.2px solid #5a5a5a;border-radius:8px 2px 9px 2px"></div>
<div class="b" style="left:601px;top:457px;width:96.8px;height:35.6px;background:rgba(255,255,255,0);border:1.2px solid #5a5a5a;border-radius:8px 2px 9px 2px"></div>
<div class="b" style="left:712.3px;top:457px;width:97px;height:35.6px;background:rgba(255,255,255,0);border:1.2px solid #5a5a5a;border-radius:8px 2px 9px 2px"></div>
<div class="b" style="left:823.3px;top:457px;width:37px;height:35.6px;background:rgba(255,255,255,0);border:1.2px solid #5a5a5a;border-radius:8px 2px 9px 2px"></div>
<div class="x" style="left:530.77px;top:464.90px;font-size:9.0px;font-weight:normal;color:#1e1e1e;-webkit-text-stroke:0.3px #1e1e1e;">Book Now</div>
<div class="x" style="left:615.17px;top:464.90px;font-size:9.0px;font-weight:normal;color:#1e1e1e;-webkit-text-stroke:0.3px #1e1e1e;">Book Now</div>
<div class="c" style="left:666.60px;top:463.80px;width:22px;height:22px;background:#a4ef2c"></div>
<svg class="i" style="left:671.80px;top:469.00px" width="11.6" height="11.6" viewBox="0 0 12 12"><path d="M5.2 0.5Q6 -0.3 6.8 0.5L7.3 3.4Q7.5 4.5 8.6 4.7L11.5 5.2Q12.3 6 11.5 6.8L8.6 7.3Q7.5 7.5 7.3 8.6L6.8 11.5Q6 12.3 5.2 11.5L4.7 8.6Q4.5 7.5 3.4 7.3L0.5 6.8Q-0.3 6 0.5 5.2L3.4 4.7Q4.5 4.5 4.7 3.4Z" fill="#131214"/></svg>
<div class="c" style="left:722.00px;top:463.80px;width:22px;height:22px;background:#a4ef2c"></div>
<svg class="i" style="left:727.20px;top:469.00px" width="11.6" height="11.6" viewBox="0 0 12 12"><path d="M5.2 0.5Q6 -0.3 6.8 0.5L7.3 3.4Q7.5 4.5 8.6 4.7L11.5 5.2Q12.3 6 11.5 6.8L8.6 7.3Q7.5 7.5 7.3 8.6L6.8 11.5Q6 12.3 5.2 11.5L4.7 8.6Q4.5 7.5 3.4 7.3L0.5 6.8Q-0.3 6 0.5 5.2L3.4 4.7Q4.5 4.5 4.7 3.4Z" fill="#131214"/></svg>
<div class="x" style="left:753.27px;top:464.90px;font-size:9.0px;font-weight:normal;color:#1e1e1e;-webkit-text-stroke:0.3px #1e1e1e;">Book Now</div>
<div class="c" style="left:830.80px;top:463.80px;width:22px;height:22px;background:#a4ef2c"></div>
<svg class="i" style="left:836.00px;top:469.00px" width="11.6" height="11.6" viewBox="0 0 12 12"><path d="M5.2 0.5Q6 -0.3 6.8 0.5L7.3 3.4Q7.5 4.5 8.6 4.7L11.5 5.2Q12.3 6 11.5 6.8L8.6 7.3Q7.5 7.5 7.3 8.6L6.8 11.5Q6 12.3 5.2 11.5L4.7 8.6Q4.5 7.5 3.4 7.3L0.5 6.8Q-0.3 6 0.5 5.2L3.4 4.7Q4.5 4.5 4.7 3.4Z" fill="#131214"/></svg>
<div class="b" style="left:88.1px;top:507.7px;width:70.7px;height:35.6px;background:#9eec34;border-radius:8px 2px 9px 2px"></div>
<div class="b" style="left:173.3px;top:507.7px;width:96.4px;height:35.6px;background:#9eec34;border-radius:8px 2px 9px 2px"></div>
<div class="b" style="left:283.9px;top:507.7px;width:97.4px;height:35.6px;background:#9eec34;border-radius:8px 2px 9px 2px"></div>
<div class="b" style="left:395.6px;top:507.7px;width:36.4px;height:35.6px;background:#9eec34;border-radius:8px 2px 9px 2px"></div>
<div class="x" style="left:102.27px;top:515.60px;font-size:9.0px;font-weight:normal;color:#101806;-webkit-text-stroke:0.4px #101806;">Book Now</div>
<div class="x" style="left:187.27px;top:515.60px;font-size:9.0px;font-weight:normal;color:#101806;-webkit-text-stroke:0.4px #101806;">Book Now</div>
<div class="c" style="left:238.85px;top:514.35px;width:21.3px;height:21.3px;background:#131214"></div>
<svg class="i" style="left:243.70px;top:519.20px" width="11.6" height="11.6" viewBox="0 0 12 12"><path d="M5.2 0.5Q6 -0.3 6.8 0.5L7.3 3.4Q7.5 4.5 8.6 4.7L11.5 5.2Q12.3 6 11.5 6.8L8.6 7.3Q7.5 7.5 7.3 8.6L6.8 11.5Q6 12.3 5.2 11.5L4.7 8.6Q4.5 7.5 3.4 7.3L0.5 6.8Q-0.3 6 0.5 5.2L3.4 4.7Q4.5 4.5 4.7 3.4Z" fill="#fff"/></svg>
<div class="c" style="left:294.35px;top:514.35px;width:21.3px;height:21.3px;background:#131214"></div>
<svg class="i" style="left:299.20px;top:519.20px" width="11.6" height="11.6" viewBox="0 0 12 12"><path d="M5.2 0.5Q6 -0.3 6.8 0.5L7.3 3.4Q7.5 4.5 8.6 4.7L11.5 5.2Q12.3 6 11.5 6.8L8.6 7.3Q7.5 7.5 7.3 8.6L6.8 11.5Q6 12.3 5.2 11.5L4.7 8.6Q4.5 7.5 3.4 7.3L0.5 6.8Q-0.3 6 0.5 5.2L3.4 4.7Q4.5 4.5 4.7 3.4Z" fill="#fff"/></svg>
<div class="x" style="left:324.67px;top:515.60px;font-size:9.0px;font-weight:normal;color:#101806;-webkit-text-stroke:0.4px #101806;">Book Now</div>
<svg class="i" style="left:408.00px;top:519.50px" width="11.6" height="11.6" viewBox="0 0 12 12"><path d="M5.2 0.5Q6 -0.3 6.8 0.5L7.3 3.4Q7.5 4.5 8.6 4.7L11.5 5.2Q12.3 6 11.5 6.8L8.6 7.3Q7.5 7.5 7.3 8.6L6.8 11.5Q6 12.3 5.2 11.5L4.7 8.6Q4.5 7.5 3.4 7.3L0.5 6.8Q-0.3 6 0.5 5.2L3.4 4.7Q4.5 4.5 4.7 3.4Z" fill="#131214"/></svg>
<div class="b" style="left:516.2px;top:507.7px;width:70.7px;height:35.6px;background:#f3f7ec;border:1.2px solid #5a5a5a;border-radius:8px 2px 9px 2px"></div>
<div class="b" style="left:601px;top:507.7px;width:96.8px;height:35.6px;background:#f3f7ec;border:1.2px solid #5a5a5a;border-radius:8px 2px 9px 2px"></div>
<div class="b" style="left:712.3px;top:507.7px;width:97px;height:35.6px;background:#f3f7ec;border:1.2px solid #5a5a5a;border-radius:8px 2px 9px 2px"></div>
<div class="b" style="left:823.3px;top:507.7px;width:37px;height:35.6px;background:#f3f7ec;border:1.2px solid #5a5a5a;border-radius:8px 2px 9px 2px"></div>
<div class="x" style="left:530.77px;top:515.60px;font-size:9.0px;font-weight:normal;color:#1e1e1e;-webkit-text-stroke:0.3px #1e1e1e;">Book Now</div>
<div class="x" style="left:615.17px;top:515.60px;font-size:9.0px;font-weight:normal;color:#1e1e1e;-webkit-text-stroke:0.3px #1e1e1e;">Book Now</div>
<div class="c" style="left:666.60px;top:514.50px;width:22px;height:22px;background:#a4ef2c"></div>
<svg class="i" style="left:671.80px;top:519.70px" width="11.6" height="11.6" viewBox="0 0 12 12"><path d="M5.2 0.5Q6 -0.3 6.8 0.5L7.3 3.4Q7.5 4.5 8.6 4.7L11.5 5.2Q12.3 6 11.5 6.8L8.6 7.3Q7.5 7.5 7.3 8.6L6.8 11.5Q6 12.3 5.2 11.5L4.7 8.6Q4.5 7.5 3.4 7.3L0.5 6.8Q-0.3 6 0.5 5.2L3.4 4.7Q4.5 4.5 4.7 3.4Z" fill="#131214"/></svg>
<div class="c" style="left:722.00px;top:514.50px;width:22px;height:22px;background:#a4ef2c"></div>
<svg class="i" style="left:727.20px;top:519.70px" width="11.6" height="11.6" viewBox="0 0 12 12"><path d="M5.2 0.5Q6 -0.3 6.8 0.5L7.3 3.4Q7.5 4.5 8.6 4.7L11.5 5.2Q12.3 6 11.5 6.8L8.6 7.3Q7.5 7.5 7.3 8.6L6.8 11.5Q6 12.3 5.2 11.5L4.7 8.6Q4.5 7.5 3.4 7.3L0.5 6.8Q-0.3 6 0.5 5.2L3.4 4.7Q4.5 4.5 4.7 3.4Z" fill="#131214"/></svg>
<div class="x" style="left:753.27px;top:515.60px;font-size:9.0px;font-weight:normal;color:#1e1e1e;-webkit-text-stroke:0.3px #1e1e1e;">Book Now</div>
<div class="c" style="left:830.80px;top:514.50px;width:22px;height:22px;background:#a4ef2c"></div>
<svg class="i" style="left:836.00px;top:519.70px" width="11.6" height="11.6" viewBox="0 0 12 12"><path d="M5.2 0.5Q6 -0.3 6.8 0.5L7.3 3.4Q7.5 4.5 8.6 4.7L11.5 5.2Q12.3 6 11.5 6.8L8.6 7.3Q7.5 7.5 7.3 8.6L6.8 11.5Q6 12.3 5.2 11.5L4.7 8.6Q4.5 7.5 3.4 7.3L0.5 6.8Q-0.3 6 0.5 5.2L3.4 4.7Q4.5 4.5 4.7 3.4Z" fill="#131214"/></svg>
<div class="b" style="left:88.1px;top:558px;width:70.7px;height:35.6px;background:#86d022;border-radius:8px 2px 9px 2px"></div>
<div class="b" style="left:173.3px;top:558px;width:96.4px;height:35.6px;background:#86d022;border-radius:8px 2px 9px 2px"></div>
<div class="b" style="left:283.9px;top:558px;width:97.4px;height:35.6px;background:#86d022;border-radius:8px 2px 9px 2px"></div>
<div class="b" style="left:395.6px;top:558px;width:36.4px;height:35.6px;background:#86d022;border-radius:8px 2px 9px 2px"></div>
<div class="x" style="left:102.27px;top:565.90px;font-size:9.0px;font-weight:normal;color:#101806;-webkit-text-stroke:0.4px #101806;">Book Now</div>
<div class="x" style="left:187.27px;top:565.90px;font-size:9.0px;font-weight:normal;color:#101806;-webkit-text-stroke:0.4px #101806;">Book Now</div>
<div class="c" style="left:238.85px;top:564.65px;width:21.3px;height:21.3px;background:#131214"></div>
<svg class="i" style="left:243.70px;top:569.50px" width="11.6" height="11.6" viewBox="0 0 12 12"><path d="M5.2 0.5Q6 -0.3 6.8 0.5L7.3 3.4Q7.5 4.5 8.6 4.7L11.5 5.2Q12.3 6 11.5 6.8L8.6 7.3Q7.5 7.5 7.3 8.6L6.8 11.5Q6 12.3 5.2 11.5L4.7 8.6Q4.5 7.5 3.4 7.3L0.5 6.8Q-0.3 6 0.5 5.2L3.4 4.7Q4.5 4.5 4.7 3.4Z" fill="#fff"/></svg>
<div class="c" style="left:294.35px;top:564.65px;width:21.3px;height:21.3px;background:#131214"></div>
<svg class="i" style="left:299.20px;top:569.50px" width="11.6" height="11.6" viewBox="0 0 12 12"><path d="M5.2 0.5Q6 -0.3 6.8 0.5L7.3 3.4Q7.5 4.5 8.6 4.7L11.5 5.2Q12.3 6 11.5 6.8L8.6 7.3Q7.5 7.5 7.3 8.6L6.8 11.5Q6 12.3 5.2 11.5L4.7 8.6Q4.5 7.5 3.4 7.3L0.5 6.8Q-0.3 6 0.5 5.2L3.4 4.7Q4.5 4.5 4.7 3.4Z" fill="#fff"/></svg>
<div class="x" style="left:324.67px;top:565.90px;font-size:9.0px;font-weight:normal;color:#101806;-webkit-text-stroke:0.4px #101806;">Book Now</div>
<svg class="i" style="left:408.00px;top:569.80px" width="11.6" height="11.6" viewBox="0 0 12 12"><path d="M5.2 0.5Q6 -0.3 6.8 0.5L7.3 3.4Q7.5 4.5 8.6 4.7L11.5 5.2Q12.3 6 11.5 6.8L8.6 7.3Q7.5 7.5 7.3 8.6L6.8 11.5Q6 12.3 5.2 11.5L4.7 8.6Q4.5 7.5 3.4 7.3L0.5 6.8Q-0.3 6 0.5 5.2L3.4 4.7Q4.5 4.5 4.7 3.4Z" fill="#131214"/></svg>
<div class="b" style="left:516.2px;top:558px;width:70.7px;height:35.6px;background:#e9f4de;border:1.2px solid #5a5a5a;border-radius:8px 2px 9px 2px"></div>
<div class="b" style="left:601px;top:558px;width:96.8px;height:35.6px;background:#e9f4de;border:1.2px solid #5a5a5a;border-radius:8px 2px 9px 2px"></div>
<div class="b" style="left:712.3px;top:558px;width:97px;height:35.6px;background:#e9f4de;border:1.2px solid #5a5a5a;border-radius:8px 2px 9px 2px"></div>
<div class="b" style="left:823.3px;top:558px;width:37px;height:35.6px;background:#e9f4de;border:1.2px solid #5a5a5a;border-radius:8px 2px 9px 2px"></div>
<div class="x" style="left:530.77px;top:565.90px;font-size:9.0px;font-weight:normal;color:#1e1e1e;-webkit-text-stroke:0.3px #1e1e1e;">Book Now</div>
<div class="x" style="left:615.17px;top:565.90px;font-size:9.0px;font-weight:normal;color:#1e1e1e;-webkit-text-stroke:0.3px #1e1e1e;">Book Now</div>
<div class="c" style="left:666.60px;top:564.80px;width:22px;height:22px;background:#a4ef2c"></div>
<svg class="i" style="left:671.80px;top:570.00px" width="11.6" height="11.6" viewBox="0 0 12 12"><path d="M5.2 0.5Q6 -0.3 6.8 0.5L7.3 3.4Q7.5 4.5 8.6 4.7L11.5 5.2Q12.3 6 11.5 6.8L8.6 7.3Q7.5 7.5 7.3 8.6L6.8 11.5Q6 12.3 5.2 11.5L4.7 8.6Q4.5 7.5 3.4 7.3L0.5 6.8Q-0.3 6 0.5 5.2L3.4 4.7Q4.5 4.5 4.7 3.4Z" fill="#131214"/></svg>
<div class="c" style="left:722.00px;top:564.80px;width:22px;height:22px;background:#a4ef2c"></div>
<svg class="i" style="left:727.20px;top:570.00px" width="11.6" height="11.6" viewBox="0 0 12 12"><path d="M5.2 0.5Q6 -0.3 6.8 0.5L7.3 3.4Q7.5 4.5 8.6 4.7L11.5 5.2Q12.3 6 11.5 6.8L8.6 7.3Q7.5 7.5 7.3 8.6L6.8 11.5Q6 12.3 5.2 11.5L4.7 8.6Q4.5 7.5 3.4 7.3L0.5 6.8Q-0.3 6 0.5 5.2L3.4 4.7Q4.5 4.5 4.7 3.4Z" fill="#131214"/></svg>
<div class="x" style="left:753.27px;top:565.90px;font-size:9.0px;font-weight:normal;color:#1e1e1e;-webkit-text-stroke:0.3px #1e1e1e;">Book Now</div>
<div class="c" style="left:830.80px;top:564.80px;width:22px;height:22px;background:#a4ef2c"></div>
<svg class="i" style="left:836.00px;top:570.00px" width="11.6" height="11.6" viewBox="0 0 12 12"><path d="M5.2 0.5Q6 -0.3 6.8 0.5L7.3 3.4Q7.5 4.5 8.6 4.7L11.5 5.2Q12.3 6 11.5 6.8L8.6 7.3Q7.5 7.5 7.3 8.6L6.8 11.5Q6 12.3 5.2 11.5L4.7 8.6Q4.5 7.5 3.4 7.3L0.5 6.8Q-0.3 6 0.5 5.2L3.4 4.7Q4.5 4.5 4.7 3.4Z" fill="#131214"/></svg>
</body></html>
